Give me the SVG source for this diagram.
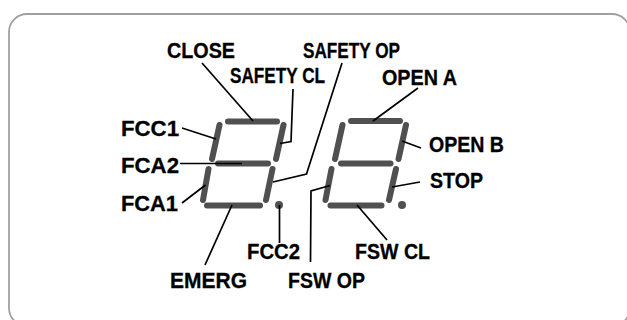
<svg xmlns="http://www.w3.org/2000/svg" width="627" height="320" viewBox="0 0 627 320">
<style>
.seg{stroke:#505050;stroke-width:6;stroke-linecap:round;fill:none}
.dot{fill:#505050}
.ld{stroke:#000;stroke-width:1.7;fill:none;stroke-linejoin:miter}
text{font-family:"Liberation Sans",Arial,sans-serif;font-weight:bold;font-size:21.5px;fill:#000;stroke:#000;stroke-width:0.3}
</style>
<rect x="9" y="14" width="621" height="312" rx="18" ry="18" fill="#fff" stroke="#a0a0a0" stroke-width="1.8"/>
<g id="digit1">
<line class="seg" x1="228" y1="121.5" x2="277" y2="121.5"/>
<line class="seg" x1="219.5" y1="125" x2="212" y2="159"/>
<line class="seg" x1="283.5" y1="125" x2="276" y2="159"/>
<line class="seg" x1="218" y1="163.5" x2="268" y2="163.5"/>
<line class="seg" x1="208.5" y1="169" x2="203" y2="200"/>
<line class="seg" x1="272.5" y1="169" x2="266" y2="200"/>
<line class="seg" x1="207" y1="205.5" x2="260" y2="205.5"/>
<circle class="dot" cx="279" cy="205" r="4"/>
</g>
<g id="digit2">
<line class="seg" x1="351" y1="121" x2="400" y2="121"/>
<line class="seg" x1="342.5" y1="125" x2="335" y2="159"/>
<line class="seg" x1="406" y1="125" x2="398.5" y2="159"/>
<line class="seg" x1="341" y1="163.5" x2="390.5" y2="163.5"/>
<line class="seg" x1="331.5" y1="169" x2="325.5" y2="200"/>
<line class="seg" x1="396" y1="169" x2="389" y2="200"/>
<line class="seg" x1="330.5" y1="205.5" x2="381.5" y2="205.5"/>
<circle class="dot" cx="402" cy="205" r="4"/>
</g>
<g id="connectors">
<polyline class="ld" points="202,63 253,121"/>
<polyline class="ld" points="293,89 291,141.5 280,143.5"/>
<polyline class="ld" points="342,63 306.5,174 273,182"/>
<polyline class="ld" points="418,88 373,121"/>
<polyline class="ld" points="402,141 421,148"/>
<polyline class="ld" points="392,187 420,182"/>
<polyline class="ld" points="357,205 387,240"/>
<polyline class="ld" points="330,185.5 311,191 310.5,262"/>
<polyline class="ld" points="279.5,205 279.5,243"/>
<polyline class="ld" points="232,205 205,265"/>
<polyline class="ld" points="205.5,185 182,203"/>
<polyline class="ld" points="180,163.5 242,163.5"/>
<polyline class="ld" points="182,128 216,139"/>
</g>
<g id="labels">
<text id="close" x="167" y="58" textLength="68" lengthAdjust="spacingAndGlyphs">CLOSE</text>
<text id="safety-cl" x="230" y="83" textLength="95" lengthAdjust="spacingAndGlyphs">SAFETY CL</text>
<text id="safety-op" x="303" y="58" textLength="97" lengthAdjust="spacingAndGlyphs">SAFETY OP</text>
<text id="open-a" x="382" y="85" textLength="75" lengthAdjust="spacingAndGlyphs">OPEN A</text>
<text id="open-b" x="429" y="152" textLength="75" lengthAdjust="spacingAndGlyphs">OPEN B</text>
<text id="stop" x="430" y="188" textLength="53" lengthAdjust="spacingAndGlyphs">STOP</text>
<text id="fsw-cl" x="355" y="259" textLength="75" lengthAdjust="spacingAndGlyphs">FSW CL</text>
<text id="fsw-op" x="288" y="288" textLength="77" lengthAdjust="spacingAndGlyphs">FSW OP</text>
<text id="fcc2" x="247" y="259" textLength="53" lengthAdjust="spacingAndGlyphs">FCC2</text>
<text id="emerg" x="170" y="288" textLength="77" lengthAdjust="spacingAndGlyphs">EMERG</text>
<text id="fca1" x="121" y="211" textLength="57" lengthAdjust="spacingAndGlyphs">FCA1</text>
<text id="fca2" x="121" y="172.5" textLength="58" lengthAdjust="spacingAndGlyphs">FCA2</text>
<text id="fcc1" x="121" y="135.5" textLength="58" lengthAdjust="spacingAndGlyphs">FCC1</text>
</g>
</svg>
